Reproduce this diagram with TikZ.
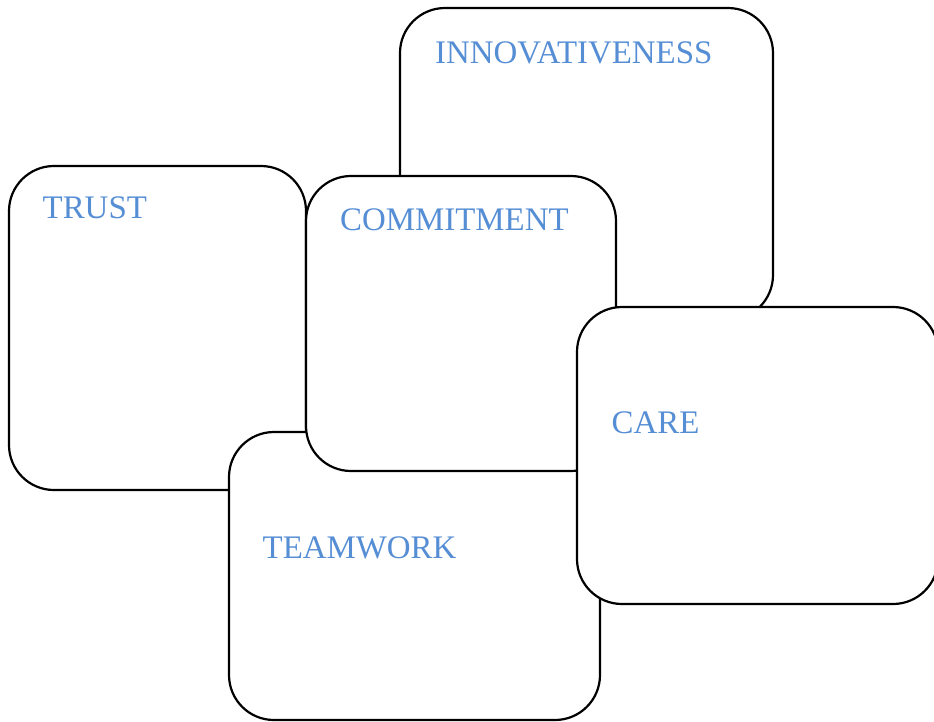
\documentclass[tikz,border=0pt]{standalone}
\usepackage{fontspec}
\setmainfont{Liberation Serif}
\definecolor{valueblue}{RGB}{85,142,213}
\begin{document}
\begin{tikzpicture}[x=1pt,y=-1pt,
  valuebox/.style={draw=black, fill=white, line width=2.2pt, rounded corners=45pt},
  valuetext/.style={anchor=base west, inner sep=0pt, text=valueblue,
    font=\fontsize{32.9}{39}\selectfont}]
  \useasboundingbox (0,0) rectangle (934,721);
  \clip (0,0) rectangle (934,721);
  % boxes, drawn back to front
  \draw[valuebox] (9,166) rectangle (306,490);
  \node[valuetext] (trust) at (42.5,218.5) {TRUST};
  \draw[valuebox] (400,8) rectangle (773,320);
  \node[valuetext] (innov) at (435,63.5) {INNOVATIVENESS};
  \draw[valuebox] (229,432) rectangle (600,720);
  \node[valuetext] (team) at (262.5,558.5) {TEAMWORK};
  \draw[valuebox] (306,176) rectangle (616,471);
  \node[valuetext] (commit) at (340,230) {COMMITMENT};
  \draw[valuebox] (577,307) rectangle (938,604);
  \node[valuetext] (care) at (611.5,433.5) {CARE};
\end{tikzpicture}
\end{document}
